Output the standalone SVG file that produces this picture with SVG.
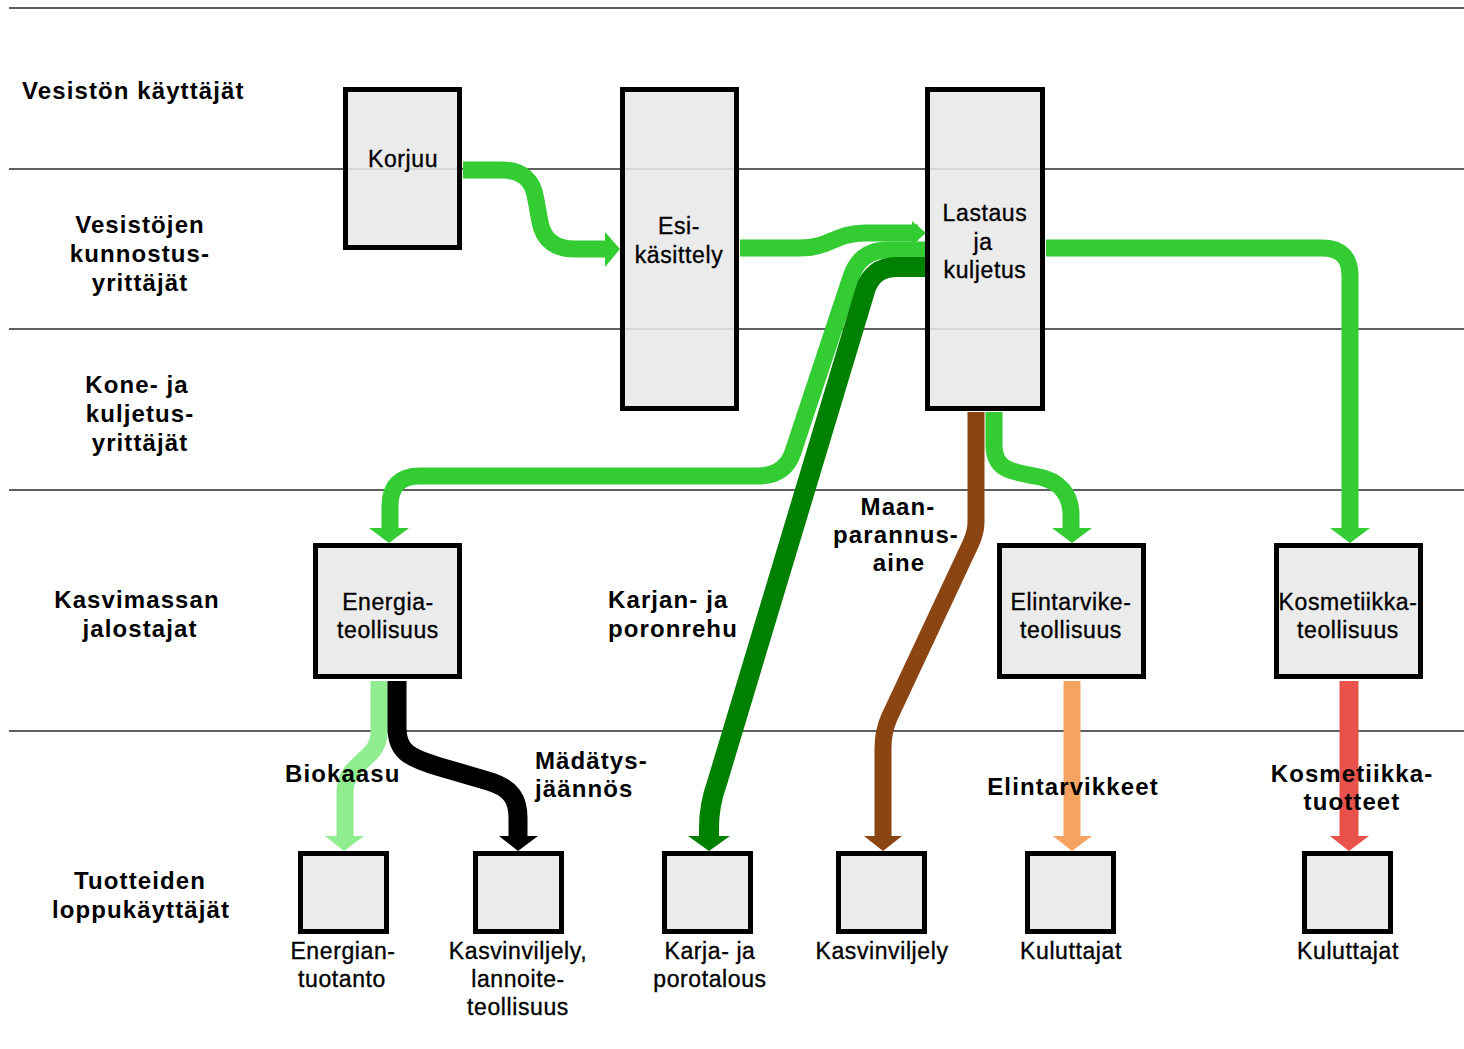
<svg xmlns="http://www.w3.org/2000/svg" width="1464" height="1049" viewBox="0 0 1464 1049">
<defs>
<style>
.bg{fill:#ffffff}
.sep{stroke:#2a2a2a;stroke-width:1.6}
.box{fill:#e8e8e8;fill-opacity:0.88;stroke:#000;stroke-width:5}
.c{fill:none;stroke-linejoin:round}
.lg{stroke:#33cc33;stroke-width:17}
.dg{stroke:#008000;stroke-width:20}
.br{stroke:#8b4513;stroke-width:17}
.pg{stroke:#90ee90;stroke-width:17}
.bk{stroke:#000;stroke-width:19}
.or{stroke:#f4a460;stroke-width:17}
.rd{stroke:#e8524a;stroke-width:19}
.lbl{font-family:"Liberation Sans",Arial,sans-serif;font-weight:bold;font-size:24px;letter-spacing:1.1px;fill:#000}
.bt{font-family:"Liberation Sans",Arial,sans-serif;font-size:23px;letter-spacing:0.6px;fill:#000;stroke:#000;stroke-width:0.35;text-anchor:middle}
.m{text-anchor:middle}
</style>
</defs>
<rect class="bg" x="0" y="0" width="1464" height="1049"/>
<g id="lanes">
<line class="sep" x1="9" y1="8" x2="1464" y2="8"/>
<line class="sep" x1="9" y1="169" x2="1464" y2="169"/>
<line class="sep" x1="9" y1="329" x2="1464" y2="329"/>
<line class="sep" x1="9" y1="490" x2="1464" y2="490"/>
<line class="sep" x1="9" y1="731" x2="1464" y2="731"/>
<text class="lbl" x="22" y="99">Vesistön käyttäjät</text>
<text class="lbl m" x="140" y="233">Vesistöjen</text>
<text class="lbl m" x="140" y="262">kunnostus-</text>
<text class="lbl m" x="140" y="291">yrittäjät</text>
<text class="lbl m" x="137" y="393">Kone- ja</text>
<text class="lbl m" x="140" y="422">kuljetus-</text>
<text class="lbl m" x="140" y="451">yrittäjät</text>
<text class="lbl m" x="137" y="608">Kasvimassan</text>
<text class="lbl m" x="140" y="637">jalostajat</text>
<text class="lbl m" x="140" y="889">Tuotteiden</text>
<text class="lbl m" x="141" y="918">loppukäyttäjät</text>
</g>
<g id="connectors">
<path class="c lg" d="M463,170 H502 Q532,170 536,200 L540,222 Q545,249 575,249 H607"/>
<polygon fill="#33cc33" points="605,232 605,267 620,249"/>
<path class="c lg" d="M740,248 H800 C830,248 835,233 865,233 H918"/>
<polygon fill="#33cc33" points="912,221 912,245 926,233"/>
<path class="c lg" d="M925,250 H888 Q860,250 851,277 L793,452 Q785,476 758,476 H420 Q390,476 390,506 V530"/>
<polygon fill="#33cc33" points="369,528 409,528 389,543"/>
<path class="c dg" d="M925,267 H897 Q872,267 865,291 L717,783 Q709,805 709,828 V838"/>
<polygon fill="#008000" points="688,836 730,836 709,851"/>
<path class="c lg" d="M1046,248 H1322 Q1350,248 1350,276 V530"/>
<polygon fill="#33cc33" points="1330,528 1370,528 1350,543"/>
<path class="c lg" d="M994,412 V445 C994,470 1012,472 1035,476 C1060,480 1071,495 1071,515 V530"/>
<polygon fill="#33cc33" points="1052,528 1092,528 1072,543"/>
<path class="c br" d="M976,412 V522 Q976,532 971,543 L889,718 Q883,732 883,748 V838"/>
<polygon fill="#8b4513" points="864,836 902,836 883,851"/>
<path class="c pg" d="M379,681 V733 C379,760 345,762 345,792 V838"/>
<polygon fill="#90ee90" points="325,836 364,836 344,851"/>
<path class="c bk" d="M397,681 V728 C397,752 410,758 440,767 L488,781 C512,788 518,800 518,818 V838"/>
<polygon fill="#000" points="499,836 538,836 518,851"/>
<path class="c or" d="M1072,681 V838"/>
<polygon fill="#f4a460" points="1053,836 1092,836 1072,851"/>
<path class="c rd" d="M1349,681 V838"/>
<polygon fill="#e8524a" points="1330,836 1369,836 1349,851"/>
</g>
<g id="korjuu"><rect class="box" x="345.5" y="89.5" width="114" height="158"/><text class="bt" x="403" y="167">Korjuu</text></g>
<g id="esikasittely"><rect class="box" x="622.5" y="89.5" width="114" height="319"/><text class="bt" x="679" y="234">Esi-</text><text class="bt" x="679" y="263">käsittely</text></g>
<g id="lastaus"><rect class="box" x="927.5" y="89.5" width="115" height="319"/><text class="bt" x="985" y="221">Lastaus</text><text class="bt" x="983" y="250">ja</text><text class="bt" x="985" y="278">kuljetus</text></g>
<g id="energiateollisuus"><rect class="box" x="315.5" y="545.5" width="144" height="131"/><text class="bt" x="388" y="610">Energia-</text><text class="bt" x="388" y="638">teollisuus</text></g>
<g id="elintarviketeollisuus"><rect class="box" x="999.5" y="545.5" width="144" height="131"/><text class="bt" x="1071" y="610">Elintarvike-</text><text class="bt" x="1071" y="638">teollisuus</text></g>
<g id="kosmetiikkateollisuus"><rect class="box" x="1276.5" y="545.5" width="144" height="131"/><text class="bt" x="1348" y="610">Kosmetiikka-</text><text class="bt" x="1348" y="638">teollisuus</text></g>
<g id="energiantuotanto"><rect class="box" x="300.5" y="853.5" width="86" height="78"/><text class="bt" x="343" y="959">Energian-</text><text class="bt" x="342" y="987">tuotanto</text></g>
<g id="kasvinviljely-lannoite"><rect class="box" x="475.5" y="853.5" width="86" height="78"/><text class="bt" x="518" y="959">Kasvinviljely,</text><text class="bt" x="518" y="987">lannoite-</text><text class="bt" x="518" y="1015">teollisuus</text></g>
<g id="karjatalous"><rect class="box" x="664.5" y="853.5" width="86" height="78"/><text class="bt" x="710" y="959">Karja- ja</text><text class="bt" x="710" y="987">porotalous</text></g>
<g id="kasvinviljely"><rect class="box" x="838.5" y="853.5" width="86" height="78"/><text class="bt" x="882" y="959">Kasvinviljely</text></g>
<g id="kuluttajat1"><rect class="box" x="1027.5" y="853.5" width="86" height="78"/><text class="bt" x="1071" y="959">Kuluttajat</text></g>
<g id="kuluttajat2"><rect class="box" x="1304.5" y="853.5" width="86" height="78"/><text class="bt" x="1348" y="959">Kuluttajat</text></g>
<g id="flowlabels">
<text class="lbl m" x="898" y="515">Maan-</text>
<text class="lbl m" x="896" y="543">parannus-</text>
<text class="lbl m" x="899" y="571">aine</text>
<text class="lbl" x="608" y="608">Karjan- ja</text>
<text class="lbl" x="608" y="637">poronrehu</text>
<text class="lbl" x="285" y="782">Biokaasu</text>
<text class="lbl" x="535" y="769">Mädätys-</text>
<text class="lbl" x="535" y="797">jäännös</text>
<text class="lbl m" x="1073" y="795">Elintarvikkeet</text>
<text class="lbl m" x="1352" y="782">Kosmetiikka-</text>
<text class="lbl m" x="1352" y="810">tuotteet</text>
</g>
</svg>
